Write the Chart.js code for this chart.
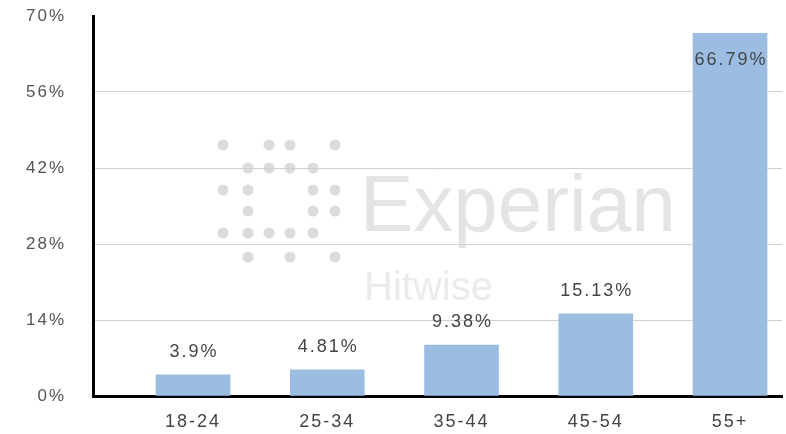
<!DOCTYPE html>
<html>
<head>
<meta charset="utf-8">
<script src="https://cdn.jsdelivr.net/npm/chart.js@4.4.0/dist/chart.umd.min.js"></script>
<style>
  html, body { margin: 0; padding: 0; background: #fff; }
  #wrap { width: 786px; height: 434px; }
</style>
</head>
<body>
<div id="wrap"><canvas id="ageChart"></canvas></div>
<script>
const ageGroups = ['18-24', '25-34', '35-44', '45-54', '55+'];
const shares = [3.9, 4.81, 9.38, 15.13, 66.79];
const yTicks = [0, 14, 28, 42, 56, 70];

const FONT = '"Liberation Sans", Arial, sans-serif';

// letter spacing for all canvas text
const spacing = {
  id: 'spacing',
  beforeUpdate(chart) { chart.ctx.letterSpacing = '2px'; },
  beforeDraw(chart) { chart.ctx.letterSpacing = '2px'; }
};

// faint logo behind the plot
const watermark = {
  id: 'watermark',
  beforeDraw(chart) {
    const ctx = chart.ctx;
    ctx.save();
    ctx.letterSpacing = '0px';
    ctx.fillStyle = '#dcdcdc';
    const cols = [223, 248, 269, 290, 313, 335];
    const rows = [
      [145, [0, 2, 3, 5]],
      [168, [1, 2, 3, 4]],
      [190, [0, 1, 4, 5]],
      [211, [1, 4, 5]],
      [233, [0, 1, 2, 3, 4]],
      [257, [1, 3, 5]]
    ];
    rows.forEach(([y, idx]) => {
      idx.forEach(i => {
        ctx.beginPath();
        ctx.arc(cols[i], y, 5.5, 0, Math.PI * 2);
        ctx.fill();
      });
    });
    ctx.fillStyle = '#e4e4e4';
    ctx.textBaseline = 'alphabetic';
    ctx.font = '80px ' + FONT;
    ctx.fillText('Experian', 360, 231);
    ctx.fillStyle = '#ebebeb';
    ctx.font = '40px ' + FONT;
    ctx.fillText('Hitwise', 364, 300);
    ctx.restore();
  }
};

// value labels above each bar (inside when there is no room)
const valueLabels = {
  id: 'valueLabels',
  afterDatasetsDraw(chart) {
    const ctx = chart.ctx;
    const meta = chart.getDatasetMeta(0);
    ctx.save();
    ctx.letterSpacing = '2px';
    ctx.font = '18px ' + FONT;
    ctx.fillStyle = '#444';
    ctx.textAlign = 'center';
    ctx.textBaseline = 'middle';
    meta.data.forEach((bar, i) => {
      let y = bar.y - 23;
      if (y < chart.chartArea.top + 10) y = bar.y + 27;
      ctx.fillText(shares[i] + '%', bar.x + 1, y);
    });
    ctx.restore();
  }
};

new Chart(document.getElementById('ageChart'), {
  type: 'bar',
  data: {
    datasets: [{
      data: shares.map((v, i) => ({ x: i, y: v })),
      backgroundColor: '#9bbde1',
      borderWidth: 0,
      barThickness: 74
    }]
  },
  options: {
    responsive: true,
    maintainAspectRatio: false,
    animation: false,
    layout: { padding: { top: 16, right: 4, left: 0, bottom: 0 } },
    plugins: {
      legend: { display: false },
      tooltip: { enabled: false }
    },
    scales: {
      x: {
        type: 'linear',
        offset: false,
        min: -0.745,
        max: 4.387,
        afterFit(scale) { scale.height = 38; },
        afterBuildTicks(scale) { scale.ticks = ageGroups.map((_, i) => ({ value: i })); },
        grid: { display: false, drawTicks: false, offset: false },
        border: { color: '#000', width: 3 },
        ticks: {
          autoSkip: false,
          maxRotation: 0,
          padding: 15,
          color: '#444',
          font: { size: 18, family: FONT },
          callback: v => ageGroups[v]
        }
      },
      y: {
        min: 0,
        max: 70,
        afterFit(scale) { scale.width = 93; },
        afterBuildTicks(scale) { scale.ticks = yTicks.map(v => ({ value: v })); },
        grid: {
          drawTicks: true,
          tickLength: 27,
          tickColor: 'rgba(0,0,0,0)',
          color: ctx => (ctx.tick && (ctx.tick.value === 70 || ctx.tick.value === 0)) ? 'rgba(0,0,0,0)' : '#cfcfcf',
          lineWidth: 1
        },
        border: { color: '#000', width: 3 },
        ticks: {
          padding: 0,
          color: '#555',
          font: { size: 17, family: FONT },
          callback: v => v + '%'
        }
      }
    }
  },
  plugins: [spacing, watermark, valueLabels]
});
</script>
</body>
</html>
